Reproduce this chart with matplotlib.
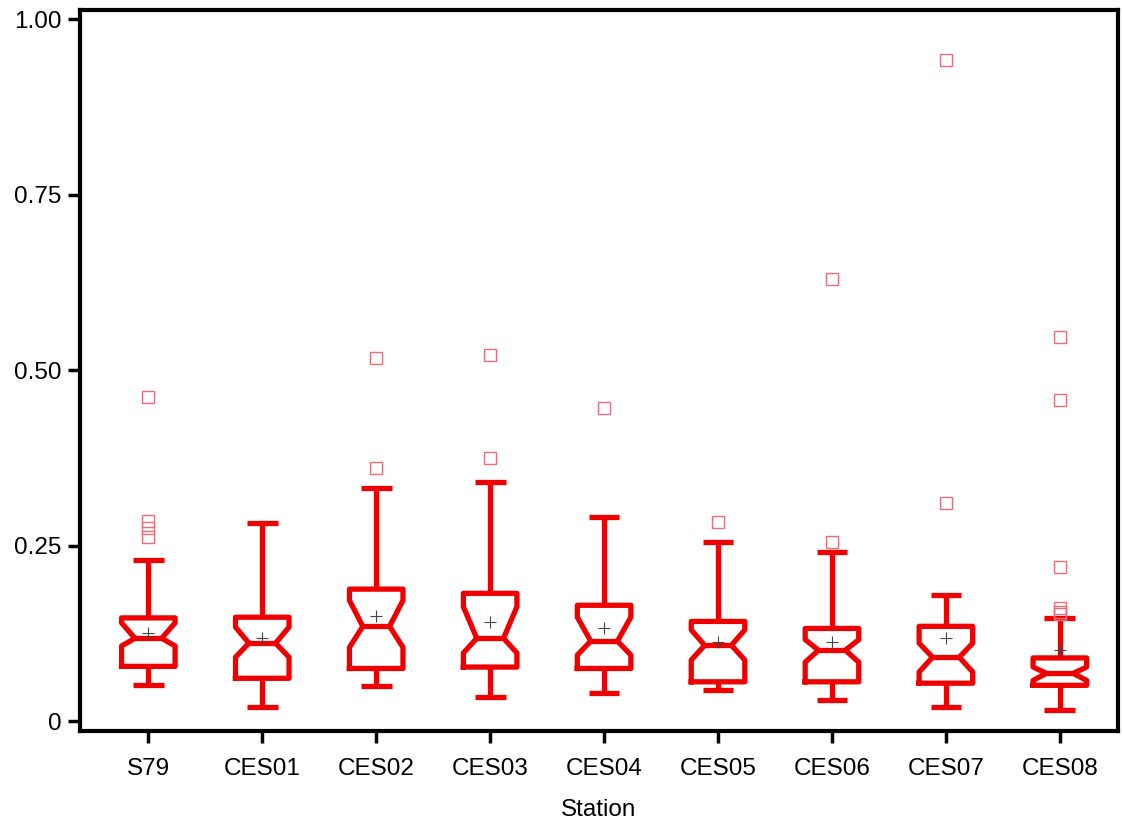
import numpy as np
import matplotlib.pyplot as plt

plt.rcParams['font.family'] = ['Liberation Sans', 'DejaVu Sans']

stations = ['S79', 'CES01', 'CES02', 'CES03', 'CES04', 'CES05', 'CES06', 'CES07', 'CES08']

# box summary per station
q1 = [0.078, 0.061, 0.075, 0.077, 0.075, 0.056, 0.056, 0.054, 0.051]
med = [0.118, 0.111, 0.135, 0.118, 0.114, 0.108, 0.101, 0.091, 0.068]
q3 = [0.147, 0.148, 0.188, 0.182, 0.165, 0.142, 0.132, 0.135, 0.090]
ci_lo = [0.107, 0.091, 0.105, 0.097, 0.094, 0.087, 0.084, 0.070, 0.058]
ci_hi = [0.140, 0.134, 0.172, 0.163, 0.148, 0.130, 0.116, 0.111, 0.077]
whis_lo = [0.051, 0.020, 0.050, 0.034, 0.040, 0.044, 0.030, 0.020, 0.016]
whis_hi = [0.229, 0.282, 0.332, 0.340, 0.291, 0.255, 0.241, 0.180, 0.147]
means = [0.125, 0.118, 0.150, 0.141, 0.132, 0.113, 0.113, 0.118, 0.101]
outliers = [
    [0.461, 0.285, 0.275, 0.262],
    [],
    [0.517, 0.360],
    [0.521, 0.375],
    [0.446],
    [0.284],
    [0.630, 0.255],
    [0.942, 0.310],
    [0.547, 0.457, 0.219, 0.161, 0.156, 0.152],
]

stats = []
for i, name in enumerate(stations):
    stats.append(dict(label=name, q1=q1[i], med=med[i], q3=q3[i],
                      cilo=ci_lo[i], cihi=ci_hi[i],
                      whislo=whis_lo[i], whishi=whis_hi[i],
                      mean=means[i], fliers=outliers[i]))

fig = plt.figure(figsize=(11.23, 8.25), dpi=100)
ax = fig.add_axes([0.0712, 0.114, 0.9243, 0.874])

red = '#ee0000'
lw = 3.8
pos = np.arange(1, len(stations) + 1)
ax.bxp(stats, positions=pos, widths=0.47, capwidths=0.27, shownotches=True,
       showmeans=True, showfliers=True, patch_artist=False,
       boxprops=dict(color=red, linewidth=lw),
       whiskerprops=dict(color=red, linewidth=lw, solid_capstyle='butt'),
       capprops=dict(color=red, linewidth=lw, solid_capstyle='butt'),
       medianprops=dict(color=red, linewidth=lw),
       meanprops=dict(marker='+', markeredgecolor='#444444', markersize=9,
                      markeredgewidth=0.8),
       flierprops=dict(marker='s', markerfacecolor='none',
                       markeredgecolor='#e8707a', markersize=8,
                       markeredgewidth=1.0, linestyle='none'))

ax.set_xlim(0.40, 9.51)
ax.set_ylim(-0.014, 1.013)
ax.set_yticks([0, 0.25, 0.5, 0.75, 1.0])
ax.set_yticklabels(['0', '0.25', '0.50', '0.75', '1.00'])
ax.set_xticks(pos)
ax.set_xticklabels(stations)
ax.tick_params(axis='both', direction='out', length=8.5, width=2.5,
               labelsize=17.5, colors='black')
ax.tick_params(axis='y', pad=5)
ax.tick_params(axis='x', pad=11)
for s in ax.spines.values():
    s.set_linewidth(3)
    s.set_color('black')
ax.set_xlabel('Station', fontsize=17.5, labelpad=14)

fig.savefig('out.png', dpi=100)
